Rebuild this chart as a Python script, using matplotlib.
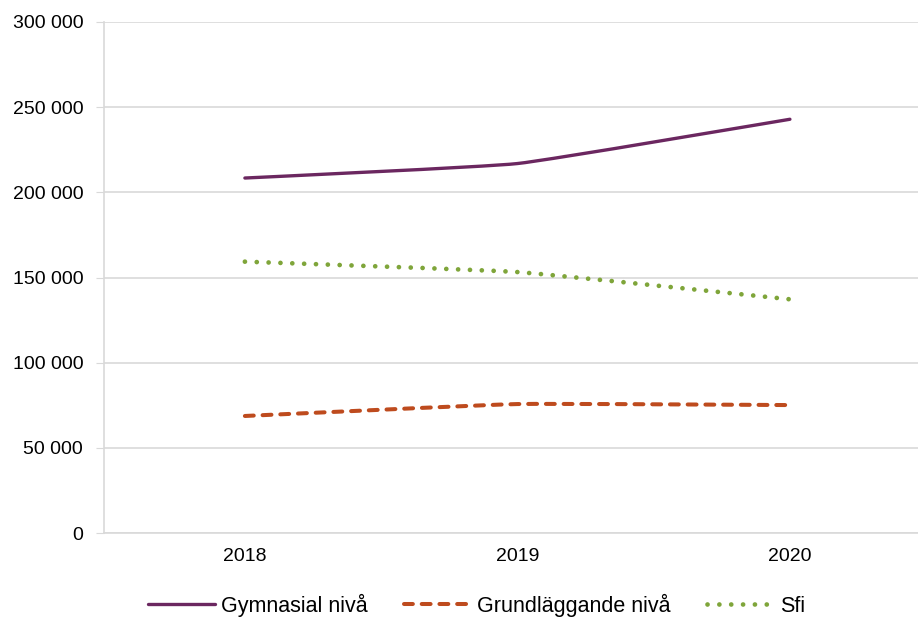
import numpy as np
import matplotlib.pyplot as plt
from matplotlib.path import Path
from matplotlib.patches import PathPatch
from matplotlib.lines import Line2D

plt.rcParams['font.family'] = ['Liberation Sans', 'DejaVu Sans']

years = ['2018', '2019', '2020']
gymnasial = [208400, 216900, 242900]
grundlaggande = [68700, 75700, 75100]
sfi = [159300, 153200, 137200]
labels = ['Gymnasial nivå', 'Grundläggande nivå', 'Sfi']

colors = ['#6B2760', '#BE4B1E', '#7FA53A']
styles = ['-', (0, (2.2, 2.2)), (0, (0.01, 2.5))]
widths = [2.4, 2.9, 3.4]


def smooth_path(xs, ys, t=0.06):
    # smoothed line like excel, cubic bezier segments
    pts = np.column_stack([xs, ys]).astype(float)
    verts = [pts[0]]
    codes = [Path.MOVETO]
    n = len(pts)
    for i in range(n - 1):
        p0 = pts[i - 1] if i > 0 else pts[i]
        p1 = pts[i]
        p2 = pts[i + 1]
        p3 = pts[i + 2] if i + 2 < n else pts[i + 1]
        c1 = p1 + (p2 - p0) * t
        c2 = p2 - (p3 - p1) * t
        verts += [c1, c2, p2]
        codes += [Path.CURVE4] * 3
    return Path(verts, codes)


fig = plt.figure(figsize=(9.18, 6.18), dpi=100)
ax = fig.add_axes([104 / 918, 1 - 533 / 618, 1 - 104 / 918, (533 - 22) / 618])

x = np.arange(len(years))
for vals, c, ls, lw in zip([gymnasial, grundlaggande, sfi], colors, styles, widths):
    patch = PathPatch(smooth_path(x, vals), facecolor='none', edgecolor=c,
                      linewidth=lw, linestyle=ls, capstyle='round', joinstyle='round')
    ax.add_patch(patch)

ax.set_xlim(-0.517, 2.47)
ax.set_ylim(0, 300000)
ax.set_xticks(x)
ax.set_xticklabels(years)
ax.set_yticks(np.arange(0, 300001, 50000))
ax.set_yticklabels([f'{v:,}'.replace(',', ' ') for v in range(0, 300001, 50000)])
ax.grid(axis='y', color='#D9D9D9', linewidth=1.2)
ax.set_axisbelow(True)
for s in ['top', 'right']:
    ax.spines[s].set_visible(False)
ax.spines['left'].set_color('#D9D9D9')
ax.spines['bottom'].set_color('#D9D9D9')
ax.spines['left'].set_linewidth(1.2)
ax.spines['bottom'].set_linewidth(1.2)
ax.tick_params(axis='y', length=6, color='#D9D9D9', labelsize=14, pad=9)
ax.tick_params(axis='x', length=0, labelsize=14, pad=11)

handles = [Line2D([0], [0], color=c, lw=lw, linestyle=ls, solid_capstyle='round',
                  dash_capstyle='round') for c, ls, lw in zip(colors, styles, widths)]
fig.legend(handles, labels, loc='center', bbox_to_anchor=(0.519, 0.021), ncol=3,
           frameon=False, fontsize=15.5, handlelength=3.1, handletextpad=0.28,
           columnspacing=1.7, borderpad=0.2)

fig.savefig('out.png', dpi=100)
